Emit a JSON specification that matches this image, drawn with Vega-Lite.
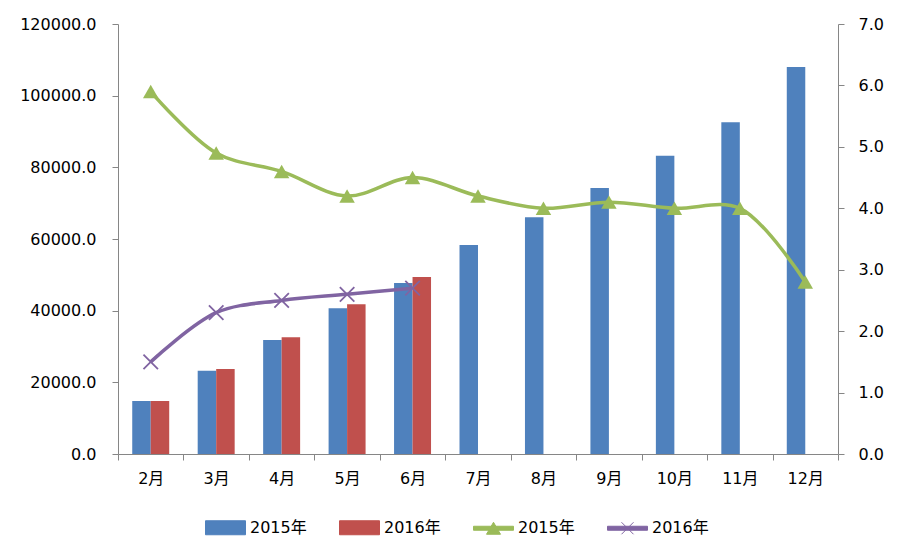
{
  "$schema": "https://vega.github.io/schema/vega-lite/v6.json",
  "width": 720,
  "height": 430,
  "autosize": {"type": "none"},
  "padding": {"left": 118, "top": 24, "right": 65, "bottom": 104},
  "background": "white",
  "config": {
    "font": "DejaVu Sans, Noto Sans CJK SC",
    "view": {"stroke": null},
    "axis": {
      "domainColor": "#868686",
      "tickColor": "#868686",
      "labelColor": "#000000",
      "labelFontSize": 16,
      "labelFont": "DejaVu Sans, Noto Sans CJK SC",
      "tickSize": 6,
      "grid": false,
      "title": null
    }
  },
  "datasets": {
    "bars": [
      {"month": "2月", "series": "bar2015", "value": 14800},
      {"month": "2月", "series": "bar2016", "value": 14800},
      {"month": "3月", "series": "bar2015", "value": 23200},
      {"month": "3月", "series": "bar2016", "value": 23700},
      {"month": "4月", "series": "bar2015", "value": 31800},
      {"month": "4月", "series": "bar2016", "value": 32600},
      {"month": "5月", "series": "bar2015", "value": 40700},
      {"month": "5月", "series": "bar2016", "value": 41800},
      {"month": "6月", "series": "bar2015", "value": 47700},
      {"month": "6月", "series": "bar2016", "value": 49400},
      {"month": "7月", "series": "bar2015", "value": 58300},
      {"month": "8月", "series": "bar2015", "value": 66100},
      {"month": "9月", "series": "bar2015", "value": 74200},
      {"month": "10月", "series": "bar2015", "value": 83200},
      {"month": "11月", "series": "bar2015", "value": 92600},
      {"month": "12月", "series": "bar2015", "value": 108000}
    ],
    "lines": [
      {"month": "2月", "series": "line2015", "value": 5.9},
      {"month": "3月", "series": "line2015", "value": 4.9},
      {"month": "4月", "series": "line2015", "value": 4.6},
      {"month": "5月", "series": "line2015", "value": 4.2},
      {"month": "6月", "series": "line2015", "value": 4.5},
      {"month": "7月", "series": "line2015", "value": 4.2},
      {"month": "8月", "series": "line2015", "value": 4.0},
      {"month": "9月", "series": "line2015", "value": 4.1},
      {"month": "10月", "series": "line2015", "value": 4.0},
      {"month": "11月", "series": "line2015", "value": 4.0},
      {"month": "12月", "series": "line2015", "value": 2.8},
      {"month": "2月", "series": "line2016", "value": 1.5},
      {"month": "3月", "series": "line2016", "value": 2.3},
      {"month": "4月", "series": "line2016", "value": 2.5},
      {"month": "5月", "series": "line2016", "value": 2.6},
      {"month": "6月", "series": "line2016", "value": 2.7}
    ]
  },
  "layer": [
    {
      "data": {"name": "bars"},
      "mark": {"type": "bar"},
      "encoding": {
        "x": {
          "field": "month",
          "type": "nominal",
          "sort": ["2月", "3月", "4月", "5月", "6月", "7月", "8月", "9月", "10月", "11月", "12月"],
          "scale": {"domain": ["2月", "3月", "4月", "5月", "6月", "7月", "8月", "9月", "10月", "11月", "12月"], "paddingInner": 0, "paddingOuter": 0},
          "axis": {"labelAngle": 0, "tickBand": "extent", "labelPadding": 10}
        },
        "xOffset": {
          "field": "series",
          "type": "nominal",
          "scale": {"domain": ["bar2015", "bar2016"], "paddingInner": 0, "paddingOuter": 0.77}
        },
        "y": {
          "field": "value",
          "type": "quantitative",
          "scale": {"domain": [0, 120000], "nice": false},
          "axis": {"orient": "left", "values": [0, 20000, 40000, 60000, 80000, 100000, 120000], "format": ".1f", "labelPadding": 16}
        },
        "color": {
          "field": "series",
          "type": "nominal",
          "scale": {
            "domain": ["bar2015", "bar2016", "line2015", "line2016"],
            "range": ["#4F81BD", "#C0504D", "#9BBB59", "#8064A2"]
          },
          "legend": {
            "title": null,
            "orient": "none",
            "legendX": 87,
            "legendY": 483,
            "direction": "horizontal",
            "padding": 0,
            "symbolSize": 1600,
            "labelFontSize": 16,
            "labelColor": "#000000",
            "labelOffset": 4,
            "columnPadding": 30,
            "labelExpr": "indexof(datum.value, '2015') >= 0 ? '2015年' : '2016年'",
            "encode": {
              "symbols": {
                "update": {
                  "shape": {"signal": "indexof(datum.value, 'bar') == 0 ? 'M-1,-0.35H1V0.35H-1Z' : datum.value == 'line2015' ? 'M-1,-0.1H1V0.1H-1ZM-0.35,0.3L0,-0.3L0.35,0.3Z' : 'M-1,-0.1H1V0.1H-1ZM-0.3,-0.3L0.3,0.3M0.3,-0.3L-0.3,0.3'"},
                  "fill": {"signal": "scale('color', datum.value)"},
                  "stroke": {"signal": "scale('color', datum.value)"},
                  "strokeWidth": {"value": 1},
                  "opacity": {"value": 1},
                  "fillOpacity": {"value": 1}
                }
              }
            }
          }
        }
      }
    },
    {
      "data": {"name": "lines"},
      "encoding": {
        "x": {
          "field": "month",
          "type": "nominal",
          "sort": ["2月", "3月", "4月", "5月", "6月", "7月", "8月", "9月", "10月", "11月", "12月"]
        },
        "y": {
          "field": "value",
          "type": "quantitative",
          "scale": {"domain": [0, 7], "nice": false},
          "axis": {"orient": "right", "values": [0, 1, 2, 3, 4, 5, 6, 7], "format": ".1f", "labelPadding": 14}
        },
        "color": {"field": "series", "type": "nominal"}
      },
      "layer": [
        {
          "mark": {"type": "line", "interpolate": "catmull-rom", "strokeWidth": 3.5}
        },
        {
          "transform": [{"filter": "datum.series == 'line2015'"}],
          "mark": {"type": "point", "shape": "triangle-up", "filled": true, "size": 240, "opacity": 1}
        },
        {
          "transform": [{"filter": "datum.series == 'line2016'"}],
          "mark": {"type": "point", "shape": "M-1,-1L1,1M1,-1L-1,1", "filled": false, "size": 210, "strokeWidth": 1.8, "opacity": 1}
        }
      ]
    }
  ],
  "resolve": {"scale": {"y": "independent"}}
}
